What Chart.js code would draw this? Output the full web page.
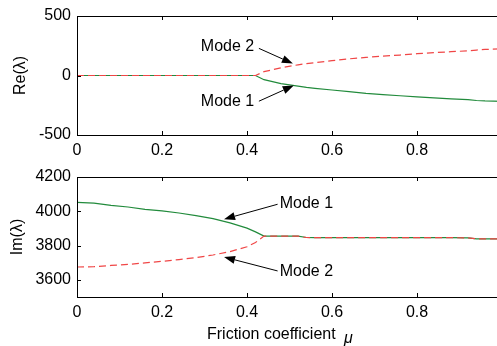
<!DOCTYPE html>
<html>
<head>
<meta charset="utf-8">
<script src="https://cdn.jsdelivr.net/npm/chart.js@4.4.0/dist/chart.umd.min.js"></script>
<style>
  html, body { margin: 0; padding: 0; background: #fff; overflow: hidden; width: 497px; height: 346px; }
  .box { position: absolute; left: 0; width: 520px; }
  #topBox { top: 0; height: 160px; }
  #botBox { top: 160px; height: 186px; }
</style>
</head>
<body>
<div class="box" id="topBox"><canvas id="reChart"></canvas></div>
<div class="box" id="botBox"><canvas id="imChart"></canvas></div>
<script>
// friction coefficient samples
const mu = [0, 0.04, 0.08, 0.12, 0.16, 0.2, 0.24, 0.28, 0.32, 0.36, 0.4, 0.42, 0.44, 0.48, 0.52, 0.54, 0.56, 0.6, 0.64, 0.68, 0.72, 0.76, 0.8, 0.84, 0.88, 0.92, 0.94, 0.96, 1.0];

// real parts
const reMode1 = [0, 0, 0, 0, 0, 0, 0, 0, 0, 0, 0, 0, -35, -68, -90, -100, -108, -122, -135, -150, -160, -170, -180, -188, -196, -203, -210, -214, -218];
const reMode2 = [0, 0, 0, 0, 0, 0, 0, 0, 0, 0, 0, 0, 32, 65, 90, 100, 108, 125, 140, 152, 163, 172, 183, 192, 200, 207, 214, 219, 224];

// imaginary parts
const imMode1 = [4052, 4048, 4034, 4025, 4011, 4002, 3990, 3975, 3957, 3932, 3902, 3880, 3855, 3855, 3855, 3847, 3846, 3846, 3846, 3846, 3846, 3846, 3846, 3846, 3846, 3845, 3839, 3839, 3839];
const imMode2 = [3675, 3677, 3684, 3690, 3699, 3708, 3718, 3730, 3745, 3765, 3793, 3818, 3855, 3855, 3855, 3847, 3846, 3846, 3846, 3846, 3846, 3846, 3846, 3846, 3846, 3845, 3839, 3839, 3839];

const xTicks = [0, 0.2, 0.4, 0.6, 0.8, 1];
const reTicks = [-500, 0, 500];
const imTicks = [3600, 3800, 4000, 4200];

const FONT = 'Liberation Sans, Arial, sans-serif';
const GREEN = 'rgb(34,139,60)';
const RED = 'rgb(240,70,70)';

function pts(ys) {
  return mu.map((x, i) => ({ x: x, y: ys[i] }));
}

// box + inward ticks like matlab, plus arrow notes
const framePlugin = {
  id: 'frame',
  afterDraw(chart, args, opts) {
    const ctx = chart.ctx;
    const a = chart.chartArea;
    const xs = chart.scales.x, ys = chart.scales.y;
    ctx.save();
    ctx.strokeStyle = '#000';
    ctx.lineWidth = 1;
    ctx.strokeRect(Math.round(a.left) + 0.5, Math.round(a.top) + 0.5, Math.round(a.right - a.left), Math.round(a.bottom - a.top));
    ctx.beginPath();
    xs.ticks.forEach(t => {
      const px = Math.round(xs.getPixelForValue(t.value)) + 0.5;
      ctx.moveTo(px, a.bottom); ctx.lineTo(px, a.bottom - 4);
      ctx.moveTo(px, a.top); ctx.lineTo(px, a.top + 4);
    });
    ys.ticks.forEach(t => {
      const py = Math.round(ys.getPixelForValue(t.value)) + 0.5;
      ctx.moveTo(a.left, py); ctx.lineTo(a.left + 4, py);
      ctx.moveTo(a.right, py); ctx.lineTo(a.right - 4, py);
    });
    ctx.stroke();

    ctx.fillStyle = '#000';
    ctx.textBaseline = 'middle';
    if (opts.xTitle) {
      ctx.font = '16px ' + FONT;
      ctx.textAlign = 'left';
      ctx.fillText(opts.xTitle, 207, a.bottom + 38);
      ctx.font = 'italic 16px ' + FONT;
      ctx.fillText('\u03bc', 344, a.bottom + 42);
    }

    (opts.notes || []).forEach(n => {
      const tx = xs.getPixelForValue(n.text[0]), ty = ys.getPixelForValue(n.text[1]);
      ctx.font = '16px ' + FONT;
      ctx.textAlign = n.align;
      ctx.fillText(n.label, tx, ty);
      const x0 = xs.getPixelForValue(n.from[0]), y0 = ys.getPixelForValue(n.from[1]);
      const x1 = xs.getPixelForValue(n.to[0]), y1 = ys.getPixelForValue(n.to[1]);
      const ang = Math.atan2(y1 - y0, x1 - x0);
      const L = 11, W = 4;
      const bx = x1 - L * Math.cos(ang), by = y1 - L * Math.sin(ang);
      ctx.beginPath();
      ctx.moveTo(x0, y0); ctx.lineTo(bx, by);
      ctx.stroke();
      ctx.beginPath();
      ctx.moveTo(x1, y1);
      ctx.lineTo(bx + W * Math.sin(ang), by - W * Math.cos(ang));
      ctx.lineTo(bx - W * Math.sin(ang), by + W * Math.cos(ang));
      ctx.closePath();
      ctx.fill();
    });
    ctx.restore();
  }
};

function makeChart(id, d1, d2, yMin, yMax, yTickVals, yTitle, titlePad, xTitle, pad, xHeight, notes) {
  return new Chart(document.getElementById(id), {
    type: 'line',
    data: {
      datasets: [
        { label: 'Mode 1', data: pts(d1), borderColor: GREEN, borderWidth: 1.2, pointRadius: 0, tension: 0, order: 2 },
        { label: 'Mode 2', data: pts(d2), borderColor: RED, borderWidth: 1.2, borderDash: [7, 4], pointRadius: 0, tension: 0, order: 1 }
      ]
    },
    options: {
      responsive: true,
      maintainAspectRatio: false,
      animation: false,
      events: [],
      layout: { padding: pad },
      plugins: {
        legend: { display: false },
        tooltip: { enabled: false },
        frame: { notes: notes, xTitle: xTitle }
      },
      scales: {
        x: {
          type: 'linear', min: 0, max: 1,
          grid: { display: false, drawTicks: false },
          border: { display: false },
          afterBuildTicks: s => { s.ticks = xTicks.map(v => ({ value: v })); },
          ticks: { color: '#000', font: { family: FONT, size: 16 }, padding: 6, maxRotation: 0, callback: v => String(v) },
          afterFit: s => { s.height = xHeight; }
        },
        y: {
          min: yMin, max: yMax,
          grid: { display: false, drawTicks: false },
          border: { display: false },
          afterBuildTicks: s => { s.ticks = yTickVals.map(v => ({ value: v })); },
          ticks: { color: '#000', font: { family: FONT, size: 16 }, padding: 6, callback: v => String(v) },
          title: { display: true, text: yTitle, color: '#000', font: { family: FONT, size: 16 }, padding: { top: titlePad, bottom: 0 } },
          afterFit: s => { s.width = 77; }
        }
      }
    },
    plugins: [framePlugin]
  });
}

makeChart('reChart', reMode1, reMode2, -500, 500, reTicks, 'Re(\u03bb)', 11, '',
  { top: 16, right: 18, left: 0, bottom: 0 }, 25,
  [
    { label: 'Mode 2', align: 'right', text: [0.417, 244], from: [0.428, 228], to: [0.508, 100] },
    { label: 'Mode 1', align: 'right', text: [0.417, -218], from: [0.428, -216], to: [0.51, -84] }
  ]);

makeChart('imChart', imMode1, imMode2, 3500, 4200, imTicks, 'Im(\u03bb)', 8, 'Friction coefficient',
  { top: 17, right: 18, left: 0, bottom: 0 }, 49,
  [
    { label: 'Mode 1', align: 'left', text: [0.477, 4047], from: [0.472, 4041], to: [0.346, 3954] },
    { label: 'Mode 2', align: 'left', text: [0.477, 3646], from: [0.472, 3652], to: [0.346, 3733] }
  ]);
</script>
</body>
</html>
